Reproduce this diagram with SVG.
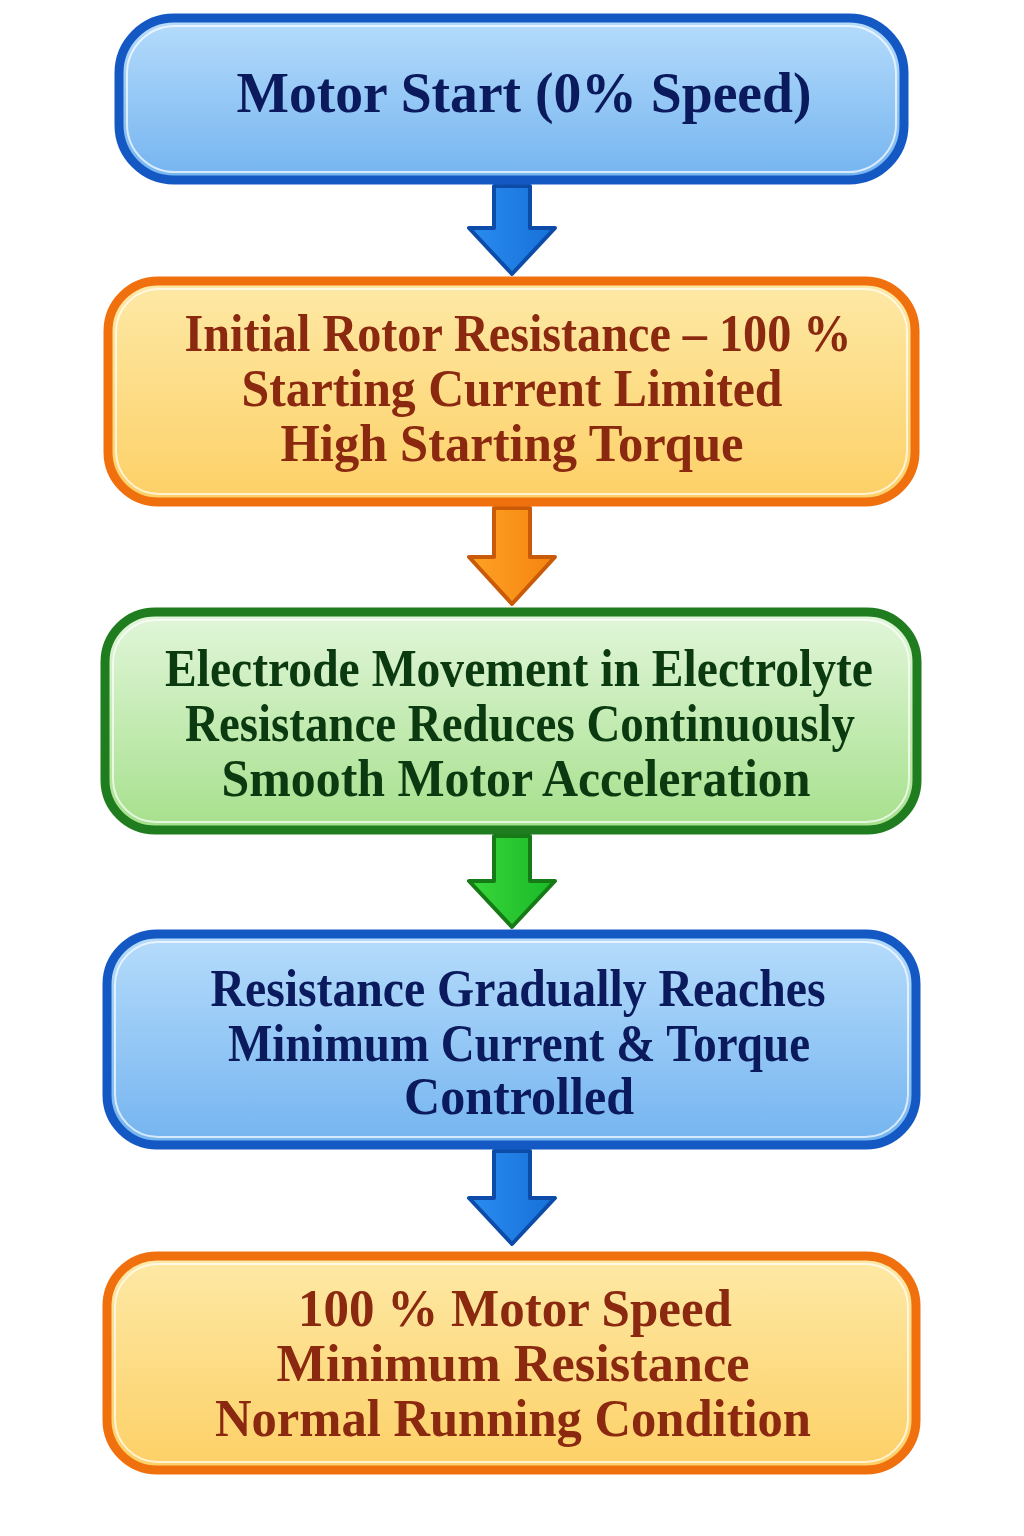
<svg xmlns="http://www.w3.org/2000/svg" width="1024" height="1536" viewBox="0 0 1024 1536">
<defs>
<linearGradient id="gBlue" x1="0" y1="0" x2="0" y2="1"><stop offset="0" stop-color="#b6dcfb"/><stop offset="1" stop-color="#74b4f0"/></linearGradient>
<linearGradient id="gOrange" x1="0" y1="0" x2="0" y2="1"><stop offset="0" stop-color="#fde9a6"/><stop offset="1" stop-color="#fdd066"/></linearGradient>
<linearGradient id="gGreen" x1="0" y1="0" x2="0" y2="1"><stop offset="0" stop-color="#e2f6da"/><stop offset="1" stop-color="#a6e08c"/></linearGradient>
<linearGradient id="aBlue" x1="0" y1="0" x2="1" y2="0"><stop offset="0" stop-color="#2a8cf0"/><stop offset="1" stop-color="#1670d8"/></linearGradient>
<linearGradient id="aOrange" x1="0" y1="0" x2="1" y2="0"><stop offset="0" stop-color="#ffa224"/><stop offset="1" stop-color="#f48410"/></linearGradient>
<linearGradient id="aGreen" x1="0" y1="0" x2="1" y2="0"><stop offset="0" stop-color="#3ad83a"/><stop offset="1" stop-color="#18b828"/></linearGradient>
<style>
.t{font-family:"Liberation Serif","DejaVu Serif",serif;font-weight:bold;text-anchor:middle;}
.blueBox{fill:url(#gBlue);stroke:#1458c4;stroke-width:9;}
.orangeBox{fill:url(#gOrange);stroke:#f0700e;stroke-width:9;}
.greenBox{fill:url(#gGreen);stroke:#1f7d1f;stroke-width:9;}
.inner{fill:none;stroke:#ffffff;stroke-opacity:0.7;stroke-width:2;}
.navy{fill:#0b1a5c;font-size:58px;}
.navy2{fill:#0b1a5c;font-size:52px;}
.brown{fill:#8a2810;font-size:52px;}
.dgreen{fill:#0b3a10;font-size:52px;}
</style>
</defs>

<g id="connectors">
<path d="M494,186 L530,186 L530,228 L555,228 L512,274 L469,228 L494,228 Z" fill="url(#aBlue)" stroke="#0c4ca8" stroke-width="4" stroke-linejoin="round"/>
<path d="M494,508 L530,508 L530,557 L555,557 L512,604 L469,557 L494,557 Z" fill="url(#aOrange)" stroke="#c85a08" stroke-width="4" stroke-linejoin="round"/>
<path d="M494,836 L530,836 L530,881 L555,881 L512,927 L469,881 L494,881 Z" fill="url(#aGreen)" stroke="#167a16" stroke-width="4" stroke-linejoin="round"/>
<path d="M494,1151 L530,1151 L530,1198 L555,1198 L512,1244 L469,1198 L494,1198 Z" fill="url(#aBlue)" stroke="#0c4ca8" stroke-width="4" stroke-linejoin="round"/>
</g>

<g id="node1">
<rect class="blueBox" x="119" y="18" width="785" height="162" rx="55"/>
<rect class="inner" x="127" y="26" width="769" height="146" rx="48"/>
<text class="t navy" x="524" y="112" textLength="575" lengthAdjust="spacingAndGlyphs">Motor Start (0% Speed)</text>
</g>

<g id="node2">
<rect class="orangeBox" x="108" y="281" width="807" height="221" rx="50"/>
<rect class="inner" x="116" y="289" width="791" height="205" rx="43"/>
<text class="t brown" x="518" y="351" textLength="667" lengthAdjust="spacingAndGlyphs">Initial Rotor Resistance – 100 %</text>
<text class="t brown" x="512" y="406" textLength="541" lengthAdjust="spacingAndGlyphs">Starting Current Limited</text>
<text class="t brown" x="512" y="461" textLength="463" lengthAdjust="spacingAndGlyphs">High Starting Torque</text>
</g>

<g id="node3">
<rect class="greenBox" x="105" y="612" width="812" height="218" rx="50"/>
<rect class="inner" x="113" y="620" width="796" height="202" rx="43"/>
<text class="t dgreen" x="519" y="686" textLength="708" lengthAdjust="spacingAndGlyphs">Electrode Movement in Electrolyte</text>
<text class="t dgreen" x="520" y="741" textLength="670" lengthAdjust="spacingAndGlyphs">Resistance Reduces Continuously</text>
<text class="t dgreen" x="516" y="796" textLength="589" lengthAdjust="spacingAndGlyphs">Smooth Motor Acceleration</text>
</g>

<g id="node4">
<rect class="blueBox" x="107" y="934" width="809" height="211" rx="50"/>
<rect class="inner" x="115" y="942" width="793" height="195" rx="43"/>
<text class="t navy2" x="518" y="1006" textLength="615" lengthAdjust="spacingAndGlyphs">Resistance Gradually Reaches</text>
<text class="t navy2" x="519" y="1061" textLength="582" lengthAdjust="spacingAndGlyphs">Minimum Current &amp; Torque</text>
<text class="t navy2" x="519" y="1114" textLength="230" lengthAdjust="spacingAndGlyphs">Controlled</text>
</g>

<g id="node5">
<rect class="orangeBox" x="107" y="1256" width="809" height="214" rx="50"/>
<rect class="inner" x="115" y="1264" width="793" height="198" rx="43"/>
<text class="t brown" x="515" y="1326" textLength="434" lengthAdjust="spacingAndGlyphs">100 % Motor Speed</text>
<text class="t brown" x="513" y="1381" textLength="473" lengthAdjust="spacingAndGlyphs">Minimum Resistance</text>
<text class="t brown" x="513" y="1436" textLength="596" lengthAdjust="spacingAndGlyphs">Normal Running Condition</text>
</g>
</svg>
